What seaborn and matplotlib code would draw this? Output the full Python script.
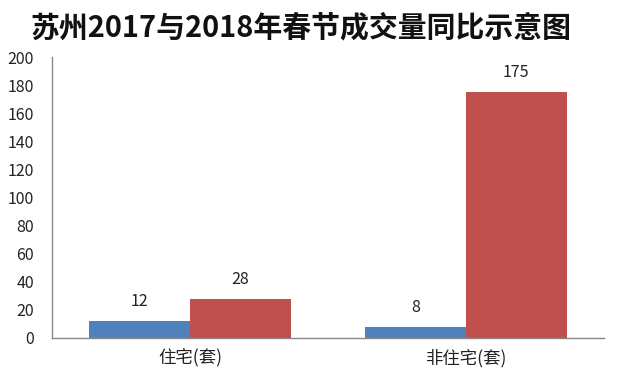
import matplotlib
matplotlib.use("Agg")
import matplotlib.pyplot as plt
import seaborn as sns
import pandas as pd

categories = ["住宅(套)", "非住宅(套)"]
years = ["2017", "2018"]
values_2017 = [12, 8]
values_2018 = [28, 175]
yticks = [0, 20, 40, 60, 80, 100, 120, 140, 160, 180, 200]

sns.set_theme(style="white")
plt.rcParams['font.family'] = ['Noto Sans CJK SC', 'DejaVu Sans']

df = pd.DataFrame({
    "cat": categories * 2,
    "year": [years[0]] * 2 + [years[1]] * 2,
    "val": values_2017 + values_2018,
})

fig = plt.figure(figsize=(6.36, 3.78), dpi=100)
ax = fig.add_axes([52/636, 1-338/378, (604-52)/636, (338-57)/378])
sns.barplot(data=df, x="cat", y="val", hue="year", palette=["#4F81BD", "#C0504D"],
            width=0.73, gap=0, ax=ax, legend=False, saturation=1, linewidth=0)

for cont in ax.containers:
    ax.bar_label(cont, padding=8, fontsize=11.5, color="#222222")

ax.set_ylim(0, 200)
ax.set_yticks(yticks)
ax.set_xlim(-0.5, 1.5)
ax.set_xlabel("")
ax.set_ylabel("")
ax.tick_params(axis="y", labelsize=11.5, length=0, pad=13, colors="#222222")
ax.tick_params(axis="x", labelsize=12.5, length=0, pad=8, colors="#222222")
for s in ["top", "right"]:
    ax.spines[s].set_visible(False)
for s in ["left", "bottom"]:
    ax.spines[s].set_color("#888888")
    ax.spines[s].set_linewidth(1.0)

fig.text(301/636, 1-27/378, "苏州2017与2018年春节成交量同比示意图", ha="center", va="center",
         fontsize=20.8, fontweight="bold", color="#111111")

fig.savefig("out.png", dpi=100)
